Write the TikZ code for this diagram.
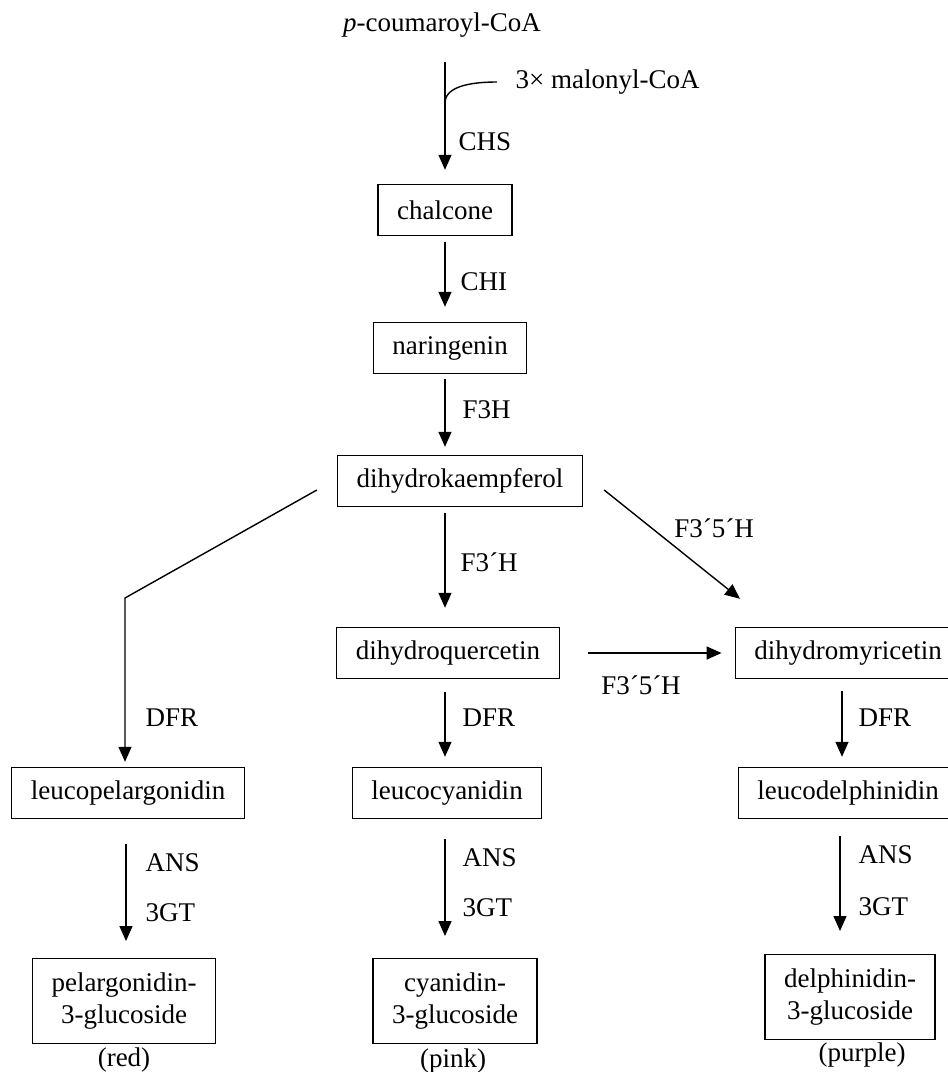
\documentclass[tikz,border=0pt]{standalone}
\usepackage{fontspec}
\setmainfont{Liberation Serif}
\usetikzlibrary{arrows.meta}

\begin{document}
\begin{tikzpicture}[x=0.5pt, y=-0.5pt, >={Triangle[length=7.5pt,width=6.5pt]},
  line width=0.7pt, font=\fontsize{13.5}{16}\selectfont,
  cpd/.style={shape=rectangle, draw, inner xsep=9.5pt, minimum height=25.5pt},
  cpd2/.style={cpd, align=center, inner ysep=7pt},
  enz/.style={anchor=west, inner sep=0pt},
  rxn/.style={->, shorten <=3pt, shorten >=7pt}]
\useasboundingbox (0,0) rectangle (948,1072);
\node  (coumaroyl) at (442,25) {\textit{p}-coumaroyl-CoA};
\node   (malonyl) at (515,82) [anchor=west, inner sep=0pt] {3× malonyl-CoA};
\node  (chalcone) at (445,210) [cpd] {chalcone};
\node (naringenin) at (450,348) [cpd] {naringenin};
\node       (dhk) at (460,481) [cpd] {dihydrokaempferol};
\node       (dhq) at (448,653) [cpd] {dihydroquercetin};
\node       (dhm) at (848,653) [cpd] {dihydromyricetin};
\node      (lpel) at (128,793) [cpd] {leucopelargonidin};
\node      (lcya) at (447,793) [cpd] {leucocyanidin};
\node      (ldel) at (848,793) [cpd] {leucodelphinidin};
\node       (pel) at (124,1001) [cpd2] {pelargonidin-\\3-glucoside};
\node       (cya) at (455,1001) [cpd2] {cyanidin-\\3-glucoside};
\node       (del) at (850,997) [cpd2] {delphinidin-\\3-glucoside};
\node       (red) at (124,1060) {(red)};
\node      (pink) at (453,1061) {(pink)};
\node    (purple) at (862,1055) {(purple)};
% enzymes
\node  (chs) at (458,142) [enz] {CHS};
\node  (chi) at (460,282) [enz] {CHI};
\node  (f3h) at (462,410) [enz] {F3H};
\node (f3ph) at (460,562) [enz] {F3´H};
\node (f35a) at (714,528) [inner sep=0pt] {F3´5´H};
\node (f35b) at (641,685) [inner sep=0pt] {F3´5´H};
\node (dfr1) at (145,718) [enz] {DFR};
\node (dfr2) at (462,718) [enz] {DFR};
\node (dfr3) at (858,718) [enz] {DFR};
\node (ans1) at (145,863) [enz] {ANS};
\node (gt1)  at (145,913) [enz] {3GT};
\node (ans2) at (462,858) [enz] {ANS};
\node (gt2)  at (462,908) [enz] {3GT};
\node (ans3) at (858,855) [enz] {ANS};
\node (gt3)  at (858,907) [enz] {3GT};
\coordinate (join) at (445,103);
\coordinate (bend) at (125,598);
% main line
\draw [rxn, shorten <=8.5pt] (chalcone.north |- coumaroyl.south) -- (chalcone.north);
\draw ([xshift=-9pt]malonyl.west) .. controls +(-22,0) and +(0,-18) .. (join);
\draw [rxn, shorten >=7.5pt] (chalcone.south) -- (chalcone.south |- naringenin.north);
\draw [rxn, shorten <=2.5pt, shorten >=4pt] (naringenin.south -| chalcone) -- (dhk.north -| chalcone);
\draw [rxn, shorten >=9.5pt] (dhk.south -| chalcone) -- (dhq.north -| chalcone);
\draw [rxn, shorten <=6.5pt, shorten >=5pt] (dhq.south -| chalcone) -- (lcya.north -| chalcone);
% branches
\draw [->, shorten >=2.5pt] ([shift={(-10pt,-4.5pt)}]dhk.west) -- (bend) -- (bend |- lpel.north);
\draw [->] ([shift={(10.5pt,-4.5pt)}]dhk.east) -- ([shift={(-54pt,14pt)}]dhm.north);
\draw [rxn, shorten <=14pt, shorten >=6.5pt] (dhq.east) -- (dhm.west);
\draw [rxn, shorten <=6pt, shorten >=5pt] ([xshift=-3pt]dhm.south) -- ([xshift=-3pt]dhm.south |- ldel.north);
% anthocyanins
\draw [rxn, shorten <=12.5pt, shorten >=8.5pt] ([xshift=-1pt]lpel.south) -- ([xshift=-1pt]lpel.south |- pel.north);
\draw [rxn, shorten <=10pt, shorten >=11pt] (lcya.south -| chalcone) -- (cya.north -| chalcone);
\draw [rxn, shorten <=8.5pt, shorten >=11.5pt] ([xshift=-4pt]ldel.south) -- ([xshift=-4pt]ldel.south |- del.north);
\end{tikzpicture}
\end{document}
